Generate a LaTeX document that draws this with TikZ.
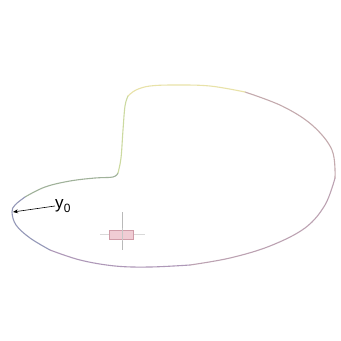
\documentclass[tikz,border=0pt]{standalone}
\usepackage{fontspec}
\setmainfont{Liberation Sans}
\usetikzlibrary{arrows.meta}
\definecolor{cgreen}{HTML}{A0B29A}
\definecolor{cblue}{HTML}{9498B8}
\definecolor{cpurple}{HTML}{AE98B8}
\definecolor{cpink}{HTML}{BCA2B2}
\definecolor{cright}{HTML}{C4AAAE}
\definecolor{cyellow}{HTML}{E8E2A8}
\definecolor{cyg}{HTML}{CCDAA0}
\definecolor{crect}{HTML}{F0CCD4}
\definecolor{crectd}{HTML}{D09CA8}
\begin{document}
\begin{tikzpicture}[x=1pt,y=-1pt,
  curve/.style={line width=1.1pt, line cap=round, line join=round},
  lbl/.style={inner sep=0pt, font=\fontsize{17}{19}\selectfont}]
\useasboundingbox (0,0) rectangle (341,341);
\fill[white] (0,0) rectangle (341,341);
% closed curve in coloured segments
\draw[curve, cgreen] plot[smooth, tension=0.6] coordinates {(118,173) (113,177) (95,178) (70,181) (45,187) (25,197)};
\draw[curve, cblue] plot[smooth, tension=0.6] coordinates {(25,197) (15,205) (12,212) (16,225) (30,238) (50,250)};
\draw[curve, cpurple] plot[smooth, tension=0.6] coordinates {(50,250) (80,260) (115,266) (150,267) (190,265)};
\draw[curve, cpink] plot[smooth, tension=0.6] coordinates {(190,265) (230,258) (270,246) (305,228) (325,205) (335,178)};
\draw[curve, cright] plot[smooth, tension=0.6] coordinates {(335,178) (332,150) (312,125) (282,106) (245,92)};
\draw[curve, cyellow] plot[smooth, tension=0.6] coordinates {(245,92) (210,86) (175,85) (150,86) (136,90) (128,96)};
\draw[curve, cyg] plot[smooth, tension=0.6] coordinates {(128,96) (125,106) (123,130) (121,158) (118,173)};
% label and arrow
\coordinate (tip) at (13,212);
\node[lbl, anchor=west] (y0) at (55,206) {y\kern0.3pt\raisebox{-0.5ex}{\fontsize{12}{14}\selectfont 0}};
\draw[-{Stealth[length=5pt,width=4pt]}, line width=0.6pt] (y0.west) -- (tip);
% crosshair
\draw[line width=0.9pt, gray!55] (122,212) -- (122,250);
\draw[line width=0.9pt, gray!30] (100,234) -- (145,234);
\draw[fill=crect, draw=crectd, line width=0.6pt] (109,230) rectangle (133,239);
\draw[line width=0.9pt, gray!45] (122,228) -- (122,241);
\end{tikzpicture}
\end{document}
